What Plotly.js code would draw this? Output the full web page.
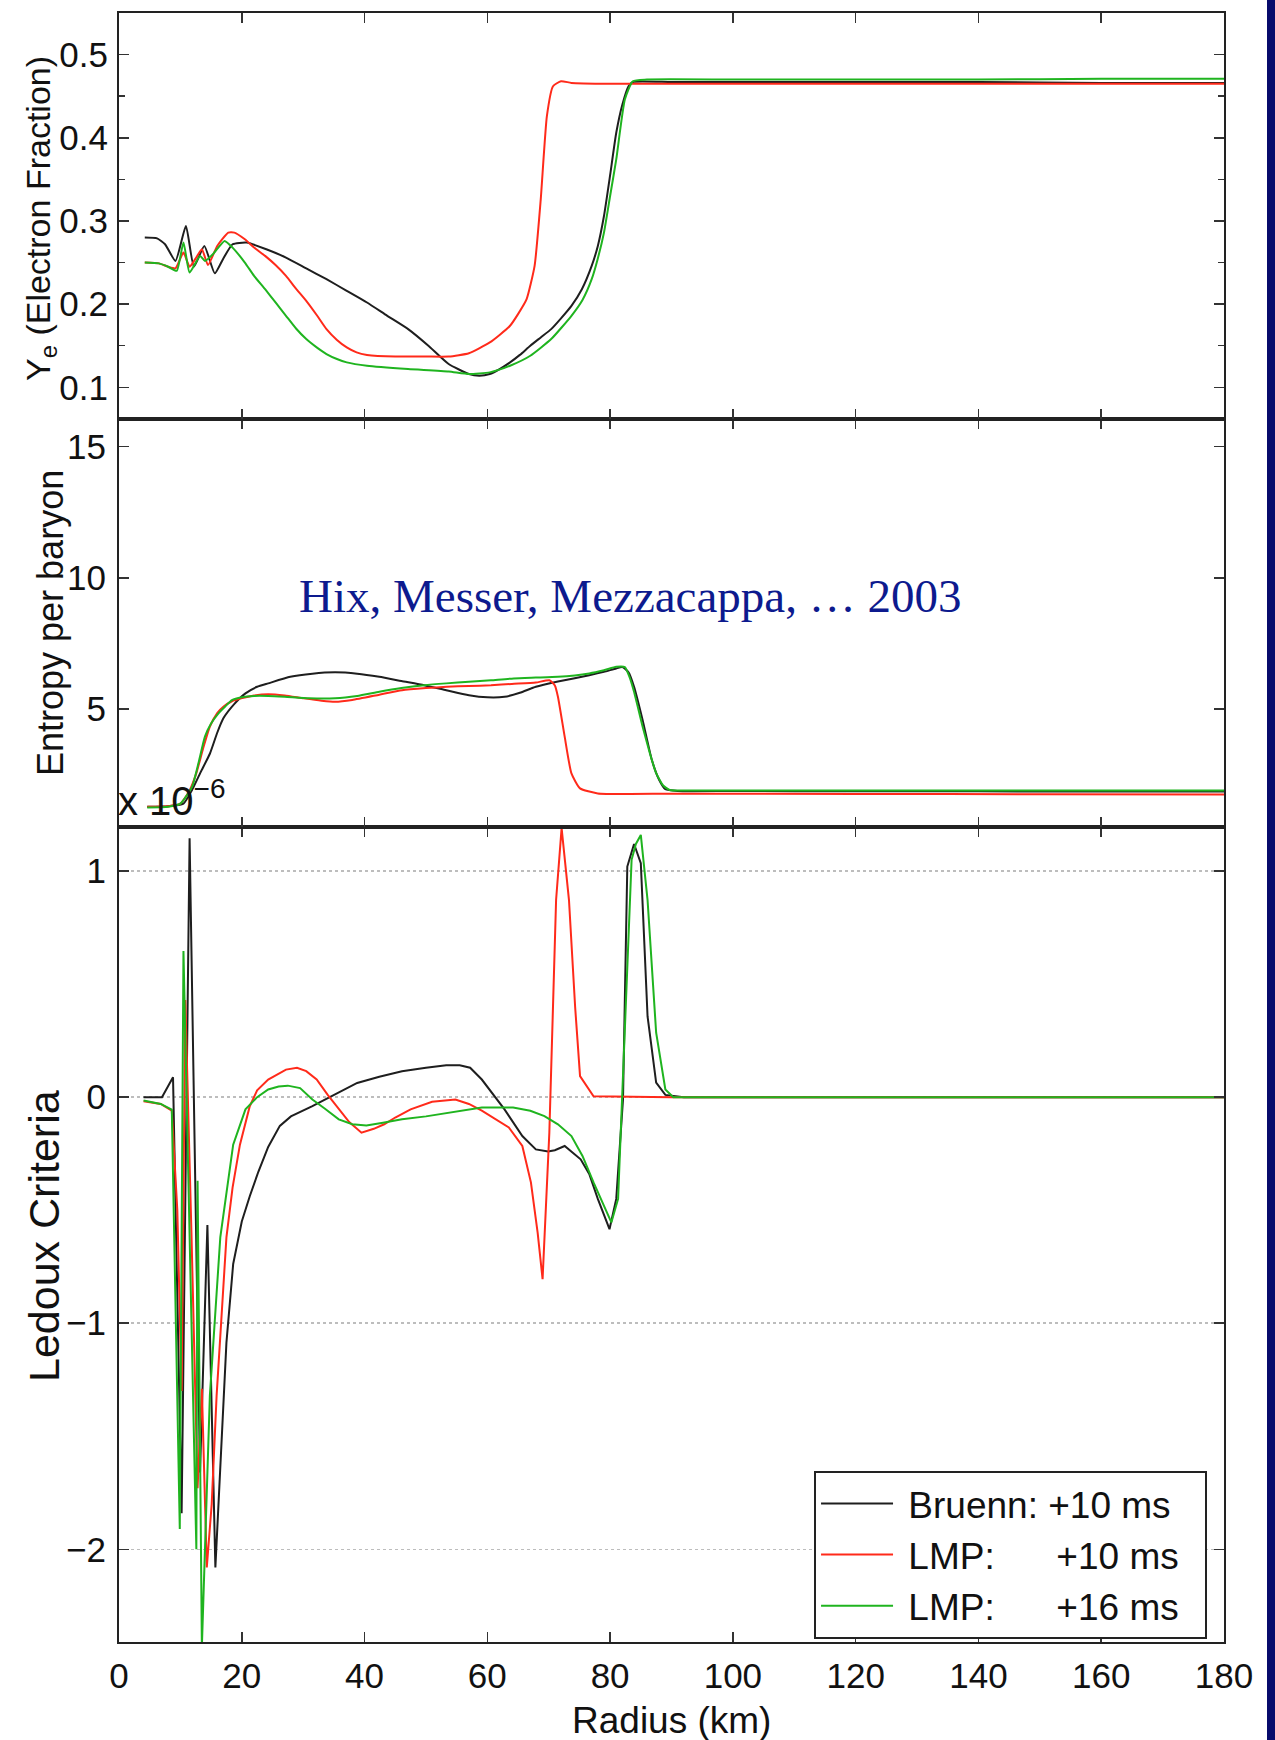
<!DOCTYPE html>
<html>
<head>
<meta charset="utf-8">
<script src="https://cdn.plot.ly/plotly-3.0.1.min.js"></script>
<style>
html,body{margin:0;padding:0;background:#fff;}
#chart{width:1275px;height:1740px;}
</style>
</head>
<body>
<div id="chart"></div>
<script>
// ---------- Data ----------
const seriesNames = ['\u00a0Bruenn: +10 ms\u00a0\u00a0', '\u00a0LMP:\u00a0\u00a0\u00a0\u00a0\u00a0 +10 ms\u00a0\u00a0', '\u00a0LMP:\u00a0\u00a0\u00a0\u00a0\u00a0 +16 ms\u00a0\u00a0'];
const xTicks = [0, 20, 40, 60, 80, 100, 120, 140, 160, 180];

// Electron fraction Ye
const bruennYeX = [4.2, 6.2, 7.5, 9.2, 10.9, 12.2, 13.9, 15.6, 17.0, 18.5, 20.8, 24, 27.2, 30.5, 33.8, 37.1, 40.4, 43.7, 47.1, 50.4, 53.7, 57.0, 58.7, 60.4, 62, 63.7, 65.3, 67.0, 68.7, 70.4, 72, 73.7, 75.4, 77.0, 78, 79.0, 80, 81.0, 82, 83, 83.7, 90, 100, 120, 140, 160, 180];
const bruennYe  = [0.280, 0.279, 0.272, 0.252, 0.294, 0.245, 0.270, 0.237, 0.255, 0.272, 0.274, 0.266, 0.256, 0.243, 0.230, 0.216, 0.202, 0.186, 0.170, 0.150, 0.128, 0.116, 0.114, 0.116, 0.122, 0.130, 0.139, 0.150, 0.160, 0.170, 0.183, 0.198, 0.218, 0.246, 0.270, 0.306, 0.355, 0.406, 0.440, 0.462, 0.467, 0.467, 0.467, 0.467, 0.467, 0.466, 0.466];
const lmp10YeX = [4.2, 6.5, 8, 9.2, 10.5, 11.5, 12.5, 13.5, 14.5, 16, 17.8, 18.8, 20.5, 22, 23.8, 25.5, 27.2, 28.8, 30.5, 32.2, 33.8, 35.5, 37.1, 38.7, 40.4, 45, 50, 53.7, 57.0, 60.4, 62, 63.7, 65, 66.4, 67.7, 68.7, 69.7, 70.7, 72.0, 73.7, 80, 100, 120, 140, 160, 180];
const lmp10Ye  = [0.250, 0.249, 0.245, 0.243, 0.262, 0.245, 0.255, 0.266, 0.247, 0.270, 0.286, 0.286, 0.278, 0.268, 0.258, 0.247, 0.234, 0.219, 0.204, 0.187, 0.170, 0.157, 0.148, 0.142, 0.139, 0.137, 0.137, 0.137, 0.141, 0.154, 0.163, 0.174, 0.188, 0.206, 0.246, 0.326, 0.426, 0.462, 0.468, 0.466, 0.465, 0.465, 0.465, 0.465, 0.465, 0.465];
const lmp16YeX = [4.2, 6.5, 8, 9.4, 10.5, 11.5, 13.2, 14, 15.3, 17.2, 18.5, 20.5, 22, 23.8, 25.5, 27.2, 28.8, 30.5, 32.2, 33.8, 35.5, 37.1, 40.4, 47.1, 53.7, 57, 60.4, 63.7, 67, 70.4, 73.7, 75.5, 77, 78, 79, 80, 81, 82.4, 83.7, 86, 100, 120, 140, 160, 180];
const lmp16Ye  = [0.250, 0.249, 0.245, 0.240, 0.274, 0.238, 0.258, 0.252, 0.260, 0.276, 0.268, 0.250, 0.234, 0.218, 0.202, 0.186, 0.171, 0.158, 0.148, 0.140, 0.134, 0.130, 0.126, 0.122, 0.119, 0.116, 0.118, 0.126, 0.138, 0.158, 0.186, 0.205, 0.230, 0.255, 0.286, 0.330, 0.374, 0.446, 0.468, 0.470, 0.470, 0.470, 0.470, 0.471, 0.471];

// Entropy per baryon
const bruennSX = [4.6, 8, 10.5, 11.9, 13.3, 14.8, 16, 17, 18.8, 20.6, 22.5, 24.3, 27.9, 31.5, 35.2, 38.8, 42.4, 46, 49.7, 53.3, 57.0, 60, 62.8, 65.3, 67.9, 71.5, 76.6, 79, 81.0, 82.0, 83.0, 83.9, 85.3, 86.8, 88, 89, 91, 100, 120, 140, 160, 180];
const bruennS  = [1.28, 1.3, 1.4, 1.92, 2.6, 3.3, 4.1, 4.65, 5.2, 5.6, 5.85, 5.98, 6.23, 6.35, 6.40, 6.35, 6.23, 6.07, 5.91, 5.72, 5.53, 5.45, 5.47, 5.62, 5.85, 6.05, 6.29, 6.42, 6.55, 6.6, 6.4, 5.85, 4.58, 3.06, 2.3, 1.95, 1.88, 1.88, 1.87, 1.87, 1.86, 1.86];
const lmp10SX = [4.6, 8, 10, 11.5, 12.6, 13.7, 14.8, 16, 17.0, 18.4, 19.9, 22, 24.3, 27, 30.1, 33, 35.2, 38, 42.4, 46.1, 50, 53.4, 57, 60.6, 64, 67.9, 70.1, 71, 71.5, 72.6, 73.7, 75.1, 78, 90, 120, 150, 180];
const lmp10S  = [1.28, 1.3, 1.4, 1.9, 2.56, 3.5, 4.33, 4.85, 5.09, 5.3, 5.41, 5.52, 5.57, 5.52, 5.41, 5.32, 5.28, 5.35, 5.55, 5.72, 5.8, 5.85, 5.88, 5.91, 5.96, 6.01, 6.1, 5.9, 5.47, 3.95, 2.55, 1.98, 1.79, 1.78, 1.77, 1.76, 1.75];
const lmp16SX = [4.6, 8, 10, 11.9, 13, 14.0, 15, 16.2, 17.3, 18.4, 20, 22, 24.3, 27, 31.0, 35.2, 38.8, 42.4, 46, 49.7, 53.3, 57, 60.6, 64.3, 67.9, 71.5, 76.6, 79, 81, 82.4, 83.2, 83.9, 85.3, 86.5, 87.5, 88.6, 89.7, 92, 120, 150, 180];
const lmp16S  = [1.25, 1.28, 1.4, 2.04, 3.0, 3.95, 4.45, 4.84, 5.1, 5.34, 5.45, 5.5, 5.50, 5.47, 5.41, 5.41, 5.5, 5.66, 5.8, 5.91, 5.98, 6.04, 6.1, 6.17, 6.2, 6.23, 6.36, 6.48, 6.61, 6.6, 6.2, 5.66, 4.33, 3.3, 2.56, 2.1, 1.92, 1.9, 1.9, 1.9, 1.9];

// Ledoux criteria
const bruennLX = [4, 5.5, 7.0, 8.8, 10.2, 11.5, 13.2, 14.4, 15.7, 17.5, 18.6, 20, 21.3, 22.7, 24.3, 26.2, 28, 31.5, 35, 38.8, 42.4, 46.1, 50, 53.3, 55.5, 57.2, 59.1, 61, 62.8, 65.7, 67.9, 69.9, 71, 72.6, 75.2, 76.6, 78.0, 79.9, 81.0, 82.1, 82.8, 83.9, 85.0, 86.1, 87.5, 89, 92, 120, 150, 180];
const bruennL  = [0, 0, 0.0, 0.088, -1.84, 1.145, -1.66, -0.566, -2.08, -1.086, -0.738, -0.55, -0.438, -0.33, -0.22, -0.127, -0.085, -0.04, 0.01, 0.063, 0.09, 0.115, 0.13, 0.141, 0.141, 0.13, 0.078, 0.01, -0.054, -0.172, -0.231, -0.24, -0.235, -0.216, -0.275, -0.34, -0.45, -0.584, -0.45, -0.01, 1.02, 1.12, 1.035, 0.357, 0.064, 0.01, 0.0, 0.0, 0.0, 0.0];
const lmp10LX = [4, 6.8, 8.6, 9.5, 10.2, 10.8, 11.8, 12.8, 13.5, 14.3, 15.1, 15.9, 17.5, 18.5, 19.7, 21.3, 22.5, 24.3, 27.2, 29.0, 30.5, 32.2, 34, 35.8, 37.5, 39.5, 41.5, 43.2, 45, 47.5, 51, 54.8, 57, 59.1, 61.5, 63.5, 65.7, 67.1, 68.2, 69.0, 70.1, 71.2, 72.1, 73.3, 74.3, 75.1, 77.3, 90, 120, 150, 180];
const lmp10L  = [-0.018, -0.03, -0.06, -0.5, -1.3, 0.43, -0.6, -1.73, -1.29, -2.08, -1.8, -1.32, -0.62, -0.4, -0.21, -0.04, 0.03, 0.078, 0.122, 0.13, 0.115, 0.078, 0.01, -0.054, -0.11, -0.157, -0.14, -0.12, -0.09, -0.054, -0.02, -0.01, -0.03, -0.06, -0.1, -0.134, -0.216, -0.377, -0.6, -0.805, -0.157, 0.872, 1.19, 0.872, 0.4, 0.093, 0.004, 0, 0, 0, 0];
const lmp16LX = [4, 6.8, 8.6, 9.9, 10.5, 12.6, 12.8, 13.5, 14.8, 16.5, 18.6, 20.6, 22.5, 24.3, 26, 27.5, 29.5, 31.5, 33.5, 35.8, 38, 40.3, 43, 46.1, 50, 53.3, 59.1, 64.2, 67, 69.3, 71.5, 73.7, 75.5, 77.3, 78.8, 80.2, 81.3, 82.4, 83.5, 84.2, 85.0, 86.1, 87.5, 89, 90.3, 120, 150, 180];
const lmp16L  = [-0.015, -0.03, -0.055, -1.91, 0.647, -2.0, -0.37, -2.43, -1.32, -0.62, -0.21, -0.054, 0.0, 0.034, 0.047, 0.051, 0.04, -0.01, -0.05, -0.098, -0.12, -0.125, -0.113, -0.098, -0.085, -0.07, -0.046, -0.046, -0.06, -0.084, -0.12, -0.172, -0.26, -0.377, -0.47, -0.554, -0.45, 0.285, 1.05, 1.12, 1.16, 0.872, 0.285, 0.034, 0.0, 0, 0, 0];

// ---------- Styling ----------
const colors = ['#1e1e1e', '#ff2a1a', '#1fb41f'];
const FONT = 'Liberation Sans, Arial, Helvetica, sans-serif';

function line(x, y, i, xa, ya, show, smooth) {
  return {
    x: x, y: y, type: 'scatter', mode: 'lines',
    name: seriesNames[i], showlegend: show, legendgroup: 'g' + i,
    line: smooth ? {color: colors[i], width: 2, shape: 'spline', smoothing: 0.5}
                 : {color: colors[i], width: 2},
    xaxis: xa, yaxis: ya, hoverinfo: 'skip'
  };
}

const traces = [
  line(bruennLX, bruennL, 0, 'x', 'y', true, false),
  line(lmp10LX, lmp10L, 1, 'x', 'y', true, false),
  line(lmp16LX, lmp16L, 2, 'x', 'y', true, false),
  line(bruennSX, bruennS, 0, 'x2', 'y2', false, true),
  line(lmp10SX, lmp10S, 1, 'x2', 'y2', false, true),
  line(lmp16SX, lmp16S, 2, 'x2', 'y2', false, true),
  line(bruennYeX, bruennYe, 0, 'x3', 'y3', false, true),
  line(lmp10YeX, lmp10Ye, 1, 'x3', 'y3', false, true),
  line(lmp16YeX, lmp16Ye, 2, 'x3', 'y3', false, true)
];

const axisCommon = {
  showline: true, linecolor: '#222', linewidth: 2, mirror: 'ticks',
  ticks: 'inside', ticklen: 10, tickwidth: 1.5, tickcolor: '#333',
  zeroline: false, showgrid: false,
  tickfont: {family: FONT, size: 35, color: '#111'}
};

const xBase = Object.assign({}, axisCommon, {range: [0, 180], tickvals: xTicks, domain: [0, 1]});

const dBot = [0, 0.5003], dMid = [0.5003, 0.7508], dTop = [0.7508, 1];

const layout = {
  width: 1275, height: 1740,
  margin: {l: 119, r: 51, t: 13, b: 98},
  paper_bgcolor: '#ffffff', plot_bgcolor: '#ffffff',
  showlegend: true,
  font: {family: FONT, color: '#111'},
  xaxis: Object.assign({}, xBase, {anchor: 'y', ticklabelstandoff: 2}),
  xaxis2: Object.assign({}, xBase, {anchor: 'y2', matches: 'x', showticklabels: false}),
  xaxis3: Object.assign({}, xBase, {anchor: 'y3', matches: 'x', showticklabels: false}),
  yaxis: Object.assign({}, axisCommon, {
    domain: dBot, anchor: 'x', range: [-2.41, 1.195], tickvals: [-2, -1, 0, 1],
    showgrid: true, gridcolor: '#bdbdbd', griddash: 'dot', gridwidth: 1.5, ticklabelstandoff: 4
  }),
  yaxis2: Object.assign({}, axisCommon, {
    domain: dMid, anchor: 'x2', range: [0.51, 16.05], tickvals: [5, 10, 15], ticklabelstandoff: 4
  }),
  yaxis3: Object.assign({}, axisCommon, {
    domain: dTop, anchor: 'x3', range: [0.062, 0.55], tickvals: [0.1, 0.2, 0.3, 0.4, 0.5],
    ticktext: ['0.1', '0.2', '0.3', '0.4', '0.5'], ticklabelstandoff: 2,
    minor: {tickvals: [0.15, 0.25, 0.35, 0.45], ticks: 'inside', ticklen: 6, tickcolor: '#333'}
  }),
  legend: {
    x: 0.629, y: 0.105, xanchor: 'left', yanchor: 'top',
    bgcolor: '#ffffff', bordercolor: '#222', borderwidth: 2,
    font: {family: FONT, size: 37, color: '#111'},
    itemwidth: 72, tracegroupgap: 0
  },
  shapes: [{
    type: 'rect', xref: 'paper', yref: 'paper',
    x0: (1267 - 119) / 1105, x1: (1280 - 119) / 1105, y0: -0.08, y1: 1.02,
    fillcolor: '#070b6c', line: {width: 0}, layer: 'above'
  }],
  annotations: [
    {text: 'Y<sub>e</sub> (Electron Fraction)', xref: 'paper', yref: 'paper',
     x: (40 - 119) / 1105, y: (1642 - 219) / 1629, textangle: -90, showarrow: false,
     xanchor: 'center', yanchor: 'middle', font: {family: FONT, size: 34, color: '#111'}},
    {text: 'Entropy per baryon', xref: 'paper', yref: 'paper',
     x: (50 - 119) / 1105, y: (1642 - 623) / 1629, textangle: -90, showarrow: false,
     xanchor: 'center', yanchor: 'middle', font: {family: FONT, size: 36, color: '#111'}},
    {text: 'Ledoux Criteria', xref: 'paper', yref: 'paper',
     x: (44 - 119) / 1105, y: (1642 - 1236) / 1629, textangle: -90, showarrow: false,
     xanchor: 'center', yanchor: 'middle', font: {family: FONT, size: 43, color: '#111'}},
    {text: 'Radius (km)', xref: 'paper', yref: 'paper',
     x: 0.5, y: (1642 - 1720) / 1629, showarrow: false,
     xanchor: 'center', yanchor: 'middle', font: {family: FONT, size: 37, color: '#111'}},
    {text: 'x 10<sup>\u22126</sup>', xref: 'paper', yref: 'paper',
     x: (116 - 119) / 1105, y: (1642 - 798) / 1629, showarrow: false,
     xanchor: 'left', yanchor: 'middle', font: {family: FONT, size: 40, color: '#111'}},
    {text: 'Hix, Messer, Mezzacappa, \u2026 2003', xref: 'paper', yref: 'paper',
     x: (630 - 119) / 1105, y: (1642 - 596) / 1629, showarrow: false,
     xanchor: 'center', yanchor: 'middle',
     font: {family: 'Liberation Serif, Times New Roman, serif', size: 47, color: '#0d1a8e'}}
  ]
};

Plotly.newPlot('chart', traces, layout, {staticPlot: true, displayModeBar: false});
</script>
</body>
</html>
